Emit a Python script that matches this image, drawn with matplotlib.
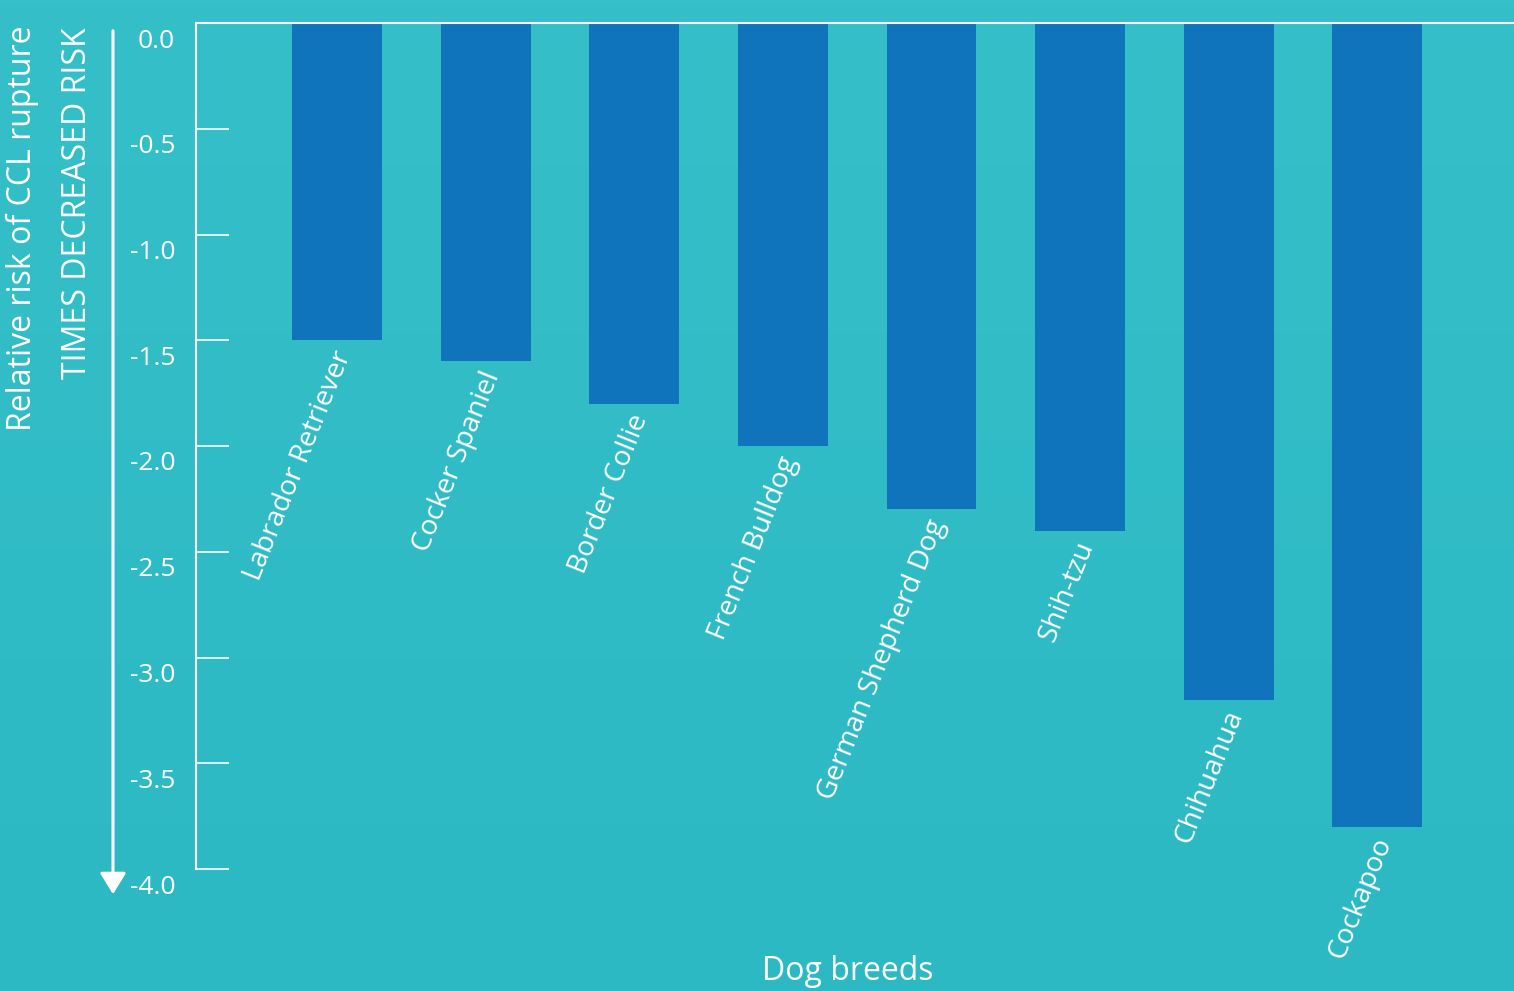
import numpy as np
import matplotlib.pyplot as plt
import matplotlib.transforms as mtransforms

# data
breeds = ['Labrador Retriever', 'Cocker Spaniel', 'Border Collie', 'French Bulldog',
          'German Shepherd Dog', 'Shih-tzu', 'Chihuahua', 'Cockapoo']
risk = [-1.5, -1.6, -1.8, -2.0, -2.3, -2.4, -3.2, -3.8]
yticks = [0.0, -0.5, -1.0, -1.5, -2.0, -2.5, -3.0, -3.5, -4.0]

bar_color = '#0f74bb'
plt.rcParams['font.family'] = ['Open Sans', 'DejaVu Sans']

W, H = 1514, 991
fig = plt.figure(figsize=(W / 100, H / 100), dpi=100)

# background gradient
bg = fig.add_axes([0, 0, 1, 1], zorder=-10)
top = np.array([53, 191, 201]) / 255
bot = np.array([44, 185, 195]) / 255
t = np.linspace(0, 1, 256)[:, None]
grad = top[None, :] * (1 - t) + bot[None, :] * t
bg.imshow(grad[:, None, :], aspect='auto', extent=[0, 1, 0, 1])
bg.axis('off')

ax = fig.add_axes([196 / W, 1 - 869 / H, 1 - 196 / W, (869 - 23) / H])
ax.patch.set_alpha(0)

x = np.arange(len(breeds))
ax.bar(x, risk, width=0.605, color=bar_color, zorder=2)
ax.set_xlim(-0.95, 7.92)
ax.set_ylim(-4, 0)

for s in ['right', 'bottom']:
    ax.spines[s].set_visible(False)
for s in ['left', 'top']:
    ax.spines[s].set_color('white')
    ax.spines[s].set_linewidth(1.5)
ax.spines['top'].set_zorder(3)

ax.set_xticks([])
ax.set_yticks(yticks)
ax.set_yticklabels([f'{v:.1f}' for v in yticks])
ax.tick_params(axis='y', direction='in', length=24, width=1.2, color='white',
               labelcolor='white', labelsize=19, pad=15)
off = mtransforms.ScaledTranslation(0, -15 / 100, fig.dpi_scale_trans)
for lab in ax.get_yticklabels():
    lab.set_transform(lab.get_transform() + off)

# rotated breed names under each bar
for i, (name, v) in enumerate(zip(breeds, risk)):
    ax.text(i - 0.04, v - 0.03, name, rotation=68, rotation_mode='anchor',
            ha='right', va='top', color='white', fontsize=20.2)

# axis titles
fig.text(22 / W, 1 - 228 / H, 'Relative risk of CCL rupture', rotation=90,
         ha='center', va='center', color='white', fontsize=23)
fig.text(78 / W, 1 - 203 / H, 'TIMES DECREASED RISK', rotation=90,
         ha='center', va='center', color='white', fontsize=23)
fig.text(848 / W, 1 - 972 / H, 'Dog breeds', ha='center', va='center',
         color='white', fontsize=23)

# downward arrow next to the axis
bg.annotate('', xy=(113 / W, 1 - 897 / H), xytext=(113 / W, 1 - 28 / H),
            xycoords=bg.transAxes,
            arrowprops=dict(arrowstyle='-|>,head_length=1.3,head_width=0.8',
                            color='white', lw=2.2))

fig.savefig('out.png', dpi=100)
